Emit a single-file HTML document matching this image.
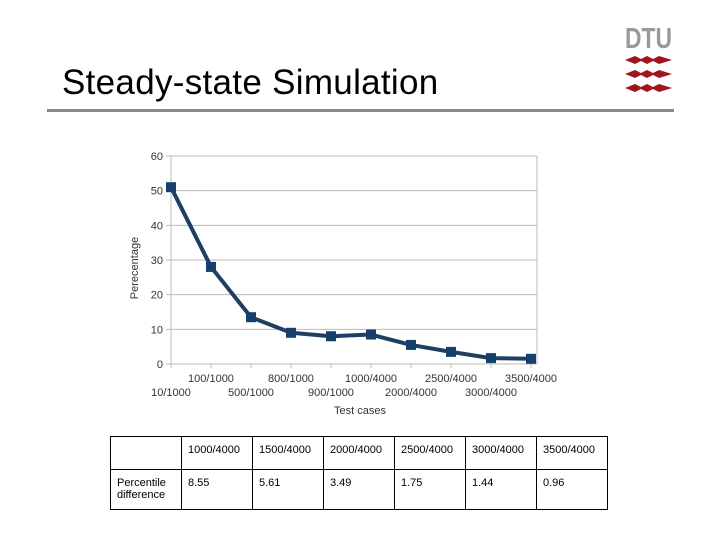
<!DOCTYPE html>
<html><head><meta charset="utf-8"><style>
body{margin:0;width:720px;height:540px;background:#fff;font-family:"Liberation Sans",sans-serif;position:relative;overflow:hidden}
.title{position:absolute;left:62px;top:63px;font-size:35px;color:#000;letter-spacing:0.3px}
.rule{position:absolute;left:47px;top:109px;width:627px;height:3px;background:#8a8a8a}
table{position:absolute;left:110px;top:436px;border-collapse:collapse;font-size:11px;table-layout:fixed}
td{border:1px solid #000;width:71px;vertical-align:top;padding:7px 0 0 6px;box-sizing:border-box}
</style></head><body>
<div class="title">Steady-state Simulation</div>
<div class="rule"></div>
<svg style="position:absolute;left:600px;top:15px" width="90" height="85">
<text x="25" y="33" font-size="29" font-weight="bold" fill="#999" font-family="Liberation Sans" textLength="47" lengthAdjust="spacingAndGlyphs">DTU</text>
<g fill="#a0161c"><path d="M25 45 L35 41 L41 44 L47 41 L53 44 L59 41 L72 45 L59 49 L53 46 L47 49 L41 46 L35 49Z"/>
<path d="M25 59 L35 55 L41 58 L47 55 L53 58 L59 55 L72 59 L59 63 L53 60 L47 63 L41 60 L35 63Z"/>
<path d="M25 73 L35 69 L41 72 L47 69 L53 72 L59 69 L72 73 L59 77 L53 74 L47 77 L41 74 L35 77Z"/></g>
</svg>
<svg id="chart" style="position:absolute;left:0;top:0" width="720" height="430"></svg>
<table>
<tr style="height:33px"><td></td><td>1000/4000</td><td>1500/4000</td><td>2000/4000</td><td>2500/4000</td><td>3000/4000</td><td>3500/4000</td></tr>
<tr style="height:40px"><td>Percentile difference</td><td>8.55</td><td>5.61</td><td>3.49</td><td>1.75</td><td>1.44</td><td>0.96</td></tr>
</table>
<script>
const categories=["10/1000","100/1000","500/1000","800/1000","900/1000","1000/4000","2000/4000","2500/4000","3000/4000","3500/4000"];
const values=[51,28,13.5,9,8,8.5,5.5,3.5,1.7,1.5];
const yTicks=[0,10,20,30,40,50,60];
const svg=document.getElementById('chart');const NS='http://www.w3.org/2000/svg';
const X0=171,DX=40,Y0=364,YS=208/60,L=171,R=537;
const xs=i=>X0+i*DX, ys=v=>Y0-v*YS;
function el(t,a,p){const e=document.createElementNS(NS,t);for(const k in a)e.setAttribute(k,a[k]);(p||svg).appendChild(e);return e;}
yTicks.forEach(t=>{
 const g=el('line',{x1:L-5,x2:R,y1:ys(t),y2:ys(t),stroke:'#bbb','stroke-width':1});
 
 
 const tx=el('text',{x:L-8,y:ys(t)+4,'text-anchor':'end','font-size':11,fill:'#333'});tx.textContent=t;
 
 
});
el('line',{x1:R,x2:R,y1:ys(60),y2:Y0,stroke:'#bbb'});
el('line',{x1:L,x2:L,y1:ys(60),y2:Y0+4,stroke:'#bbb'});
categories.forEach((c,i)=>{
 el('line',{x1:xs(i),x2:xs(i),y1:Y0,y2:Y0+4,stroke:'#bbb'});
 const t=el('text',{x:xs(i),y:i%2?382:396,'text-anchor':'middle','font-size':11,fill:'#333'});t.textContent=c;
 
 
});
const xt=el('text',{x:360,y:414,'text-anchor':'middle','font-size':11,fill:'#333'});xt.textContent='Test cases';


const yt=el('text',{x:138,y:268,'text-anchor':'middle','font-size':11,fill:'#333',transform:'rotate(-90 138 268)'});yt.textContent='Perecentage';


const ln=el('polyline',{points:values.map((v,i)=>xs(i)+','+ys(v)).join(' '),fill:'none',stroke:'#1d3f63','stroke-width':4,'stroke-linejoin':'round'});


values.forEach((v,i)=>{
 const m=el('rect',{x:xs(i)-5,y:ys(v)-5,width:10,height:10,fill:'#16406b'});
 
 
});
</script>
</body></html>
